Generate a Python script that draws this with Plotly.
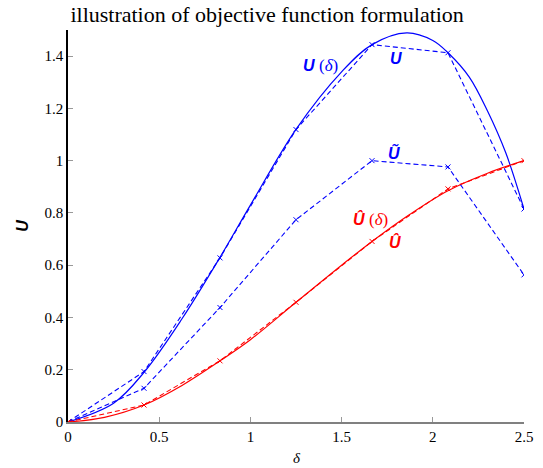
import plotly.graph_objects as go

# sample points (markers)
delta_pts = [0, 0.4167, 0.8333, 1.25, 1.6667, 2.0833, 2.5]
U_pts = [0, 0.193, 0.628, 1.119, 1.444, 1.413, 0.815]
Utilde_pts = [0, 0.129, 0.438, 0.774, 1.0, 0.976, 0.563]
Uhat_pts = [0, 0.065, 0.234, 0.458, 0.691, 0.892, 1.0]

# smooth curves
delta_U = [0, 0.25, 0.4167, 0.625, 0.8333, 1.0, 1.25, 1.5, 1.6667, 1.857, 2.0, 2.0833, 2.2, 2.3, 2.4, 2.5]
U_curve = [0, 0.072, 0.19, 0.395, 0.63, 0.83, 1.12, 1.34, 1.444, 1.489, 1.46, 1.413, 1.32, 1.19, 1.03, 0.815]
delta_Uh = [0, 0.2, 0.4167, 0.625, 0.8333, 1.0, 1.25, 1.5, 1.6667, 1.875, 2.0833, 2.3, 2.5]
Uhat_curve = [0, 0.018, 0.065, 0.14, 0.234, 0.315, 0.458, 0.60, 0.691, 0.795, 0.885, 0.952, 1.0]

x_ticks = [0, 0.5, 1, 1.5, 2, 2.5]
x_ticklabels = ["0", "0.5", "1", "1.5", "2", "2.5"]
y_ticks = [0, 0.2, 0.4, 0.6, 0.8, 1.0, 1.2, 1.4]
y_ticklabels = ["0", "0.2", "0.4", "0.6", "0.8", "1", "1.2", "1.4"]

BLUE = "#0000ff"
RED = "#ff0000"
SERIF = "Liberation Serif, Times New Roman, serif"
SANS = "Liberation Sans, Arial, sans-serif"

fig = go.Figure()
fig.add_trace(go.Scatter(x=delta_U, y=U_curve, mode="lines", line=dict(color=BLUE, width=1.2, shape="spline"), showlegend=False))
fig.add_trace(go.Scatter(x=delta_Uh, y=Uhat_curve, mode="lines", line=dict(color=RED, width=1.2, shape="spline"), showlegend=False))
for ys, col in [(U_pts, BLUE), (Utilde_pts, BLUE), (Uhat_pts, RED)]:
    fig.add_trace(go.Scatter(x=delta_pts, y=ys, mode="lines+markers",
                             line=dict(color=col, width=1.1, dash="5px,3px"),
                             marker=dict(color=col, symbol="x-thin", size=5, line=dict(width=1, color=col)),
                             showlegend=False))

def lab(sym, arg=True):
    s = f"<b><i>{sym}</i></b>"
    if arg:
        s += " <span style='font-family:Liberation Serif;font-size:17px'>(<i>δ</i>)</span>"
    return s

annots = [
    (1.382, 1.364, lab("U"), BLUE),
    (1.798, 1.39, lab("U", False), BLUE),
    (1.787, 1.03, lab("Ũ", False), BLUE),
    (1.656, 0.776, lab("Û"), RED),
    (1.793, 0.688, lab("Û", False), RED),
]
for x, y, t, c in annots:
    fig.add_annotation(x=x, y=y, text=t, showarrow=False, font=dict(family=SANS, size=16, color=c))

# x-axis title placed as annotation so the plot area is not moved by automargin
fig.add_annotation(x=0.502, y=458, xref="paper", yref="paper", text="<i>δ</i>", showarrow=False,
                   font=dict(family=SERIF, size=15, color="black"))
fig.layout.annotations[-1].update(y=(422 - 458) / 392, yanchor="middle")

fig.update_layout(
    width=543, height=468,
    margin=dict(l=68, r=19, t=30, b=46),
    paper_bgcolor="white", plot_bgcolor="white",
    title=dict(text="illustration of objective function formulation", x=0.492, xanchor="center",
               y=0.970, yanchor="middle", font=dict(family=SERIF, size=22, color="black")),
    font=dict(family=SERIF, size=15, color="black"),
)
fig.update_xaxes(range=[0, 2.5], tickvals=x_ticks, ticktext=x_ticklabels, ticks="inside", ticklen=5,
                 tickcolor="#999999", showline=True, linecolor="#808080", linewidth=2, showgrid=False,
                 zeroline=False, tickfont=dict(family=SERIF, size=15), automargin=False)
fig.update_yaxes(range=[0, 1.5], tickvals=y_ticks, ticktext=y_ticklabels, ticks="inside", ticklen=5,
                 tickcolor="#999999", showline=True, linecolor="black", linewidth=1.5, showgrid=False,
                 zeroline=False, title=dict(text="<b><i>U</i></b>", font=dict(family=SANS, size=16), standoff=12),
                 tickfont=dict(family=SERIF, size=15), automargin=False)

fig.write_html("out.html")
